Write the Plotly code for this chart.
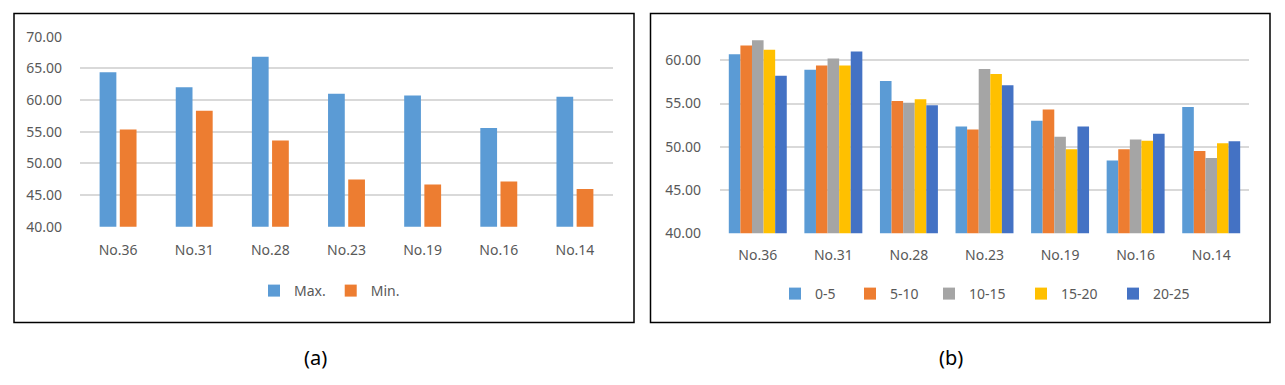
import plotly.graph_objects as go

categories = ["No.36", "No.31", "No.28", "No.23", "No.19", "No.16", "No.14"]

# Chart (a)
max_vals = [64.4, 62.0, 66.85, 61.0, 60.7, 55.6, 60.5]
min_vals = [55.35, 58.3, 53.6, 47.45, 46.65, 47.15, 45.95]

# Chart (b)
series_names = ["0-5", "5-10", "10-15", "15-20", "20-25"]
s_0_5 = [60.7, 58.9, 57.6, 52.35, 53.0, 48.4, 54.6]
s_5_10 = [61.7, 59.4, 55.3, 52.0, 54.3, 49.7, 49.5]
s_10_15 = [62.3, 60.2, 55.1, 59.0, 51.15, 50.85, 48.7]
s_15_20 = [61.2, 59.4, 55.5, 58.4, 49.7, 50.7, 50.4]
s_20_25 = [58.2, 61.0, 54.8, 57.1, 52.35, 51.5, 50.65]
series_b = [s_0_5, s_5_10, s_10_15, s_15_20, s_20_25]

yticks_a = [40, 45, 50, 55, 60, 65, 70]
yticks_b = [40, 45, 50, 55, 60]

colors_b = ["#5B9BD5", "#ED7D31", "#A5A5A5", "#FFC000", "#4472C4"]
legend_widths_b = [30, 34, 47, 47, 38]

W, H = 1285, 385
OFF = 8  # page body margin offset
FONT = "Noto Sans, sans-serif"
TICK = dict(family=FONT, size=14, color="#595959")

def px(x):
    return (x - OFF) / W

def py(y):
    return 1 - (y - OFF) / H

fig = go.Figure()

fig.add_trace(go.Bar(x=categories, y=max_vals, name="Max.", marker_color="#5B9BD5",
                     marker_line_width=0, xaxis="x", yaxis="y", legend="legend"))
fig.add_trace(go.Bar(x=categories, y=min_vals, name="Min.", marker_color="#ED7D31",
                     marker_line_width=0, xaxis="x", yaxis="y", legend="legend"))

n = len(series_names)
group_w = 0.767
bw = group_w / n
for i, (name, vals, c, lw) in enumerate(zip(series_names, series_b, colors_b, legend_widths_b)):
    fig.add_trace(go.Bar(x=categories, y=vals, name=name, marker_color=c,
                         marker_line_width=0, xaxis="x2", yaxis="y2", legend="legend2",
                         width=bw, offset=-group_w / 2 + i * bw, legendwidth=lw))

fig.update_layout(
    width=W, height=H,
    margin=dict(l=0, r=0, t=0, b=0, autoexpand=False),
    paper_bgcolor="white", plot_bgcolor="white",
    barmode="group",
    bargap=0.47, bargroupgap=0.17,
    font=dict(family=FONT, size=14, color="#595959"),
    xaxis=dict(domain=[px(80), px(613)], anchor="y", showgrid=False, showline=False,
               ticks="", tickfont=TICK, ticklabelstandoff=13, automargin=False),
    yaxis=dict(domain=[py(226.7), py(36.7)], anchor="x", range=[40, 70],
               tickvals=yticks_a, tickformat=".2f", showgrid=True, gridcolor="#D9D9D9",
               gridwidth=1.5, zeroline=False, showline=False, tickfont=TICK,
               ticklabelstandoff=17, automargin=False),
    xaxis2=dict(domain=[px(720), px(1249)], anchor="y2", showgrid=False, showline=False,
                ticks="", tickfont=TICK, ticklabelstandoff=12, automargin=False),
    yaxis2=dict(domain=[py(233.3), py(20.0)], anchor="x2", range=[40, 64.65],
                tickvals=yticks_b, tickformat=".2f", showgrid=True, gridcolor="#D9D9D9",
                gridwidth=1.5, zeroline=False, showline=False, tickfont=TICK,
                ticklabelstandoff=18, automargin=False),
    legend=dict(orientation="h", x=px(254), y=py(291), xanchor="left", yanchor="middle",
                font=dict(family=FONT, size=14, color="#595959"), itemwidth=30,
                bgcolor="rgba(0,0,0,0)"),
    legend2=dict(orientation="h", x=px(775), y=py(294), xanchor="left", yanchor="middle",
                 font=dict(family=FONT, size=14, color="#595959"), itemwidth=30,
                 bgcolor="rgba(0,0,0,0)"),
    showlegend=True,
)

fig.add_shape(type="rect", xref="paper", yref="paper", x0=px(14), x1=px(634),
              y0=py(322.5), y1=py(13.5), line=dict(color="black", width=1.5))
fig.add_shape(type="rect", xref="paper", yref="paper", x0=px(650.5), x1=px(1270),
              y0=py(322.5), y1=py(13.5), line=dict(color="black", width=1.5))

fig.add_annotation(text="(a)", xref="paper", yref="paper", x=px(315), y=py(357),
                   showarrow=False, xanchor="center", yanchor="middle",
                   font=dict(family="Noto Sans, sans-serif", size=20, color="black"))
fig.add_annotation(text="(b)", xref="paper", yref="paper", x=px(951), y=py(357),
                   showarrow=False, xanchor="center", yanchor="middle",
                   font=dict(family="Noto Sans, sans-serif", size=20, color="black"))

fig.write_html("out.html")
